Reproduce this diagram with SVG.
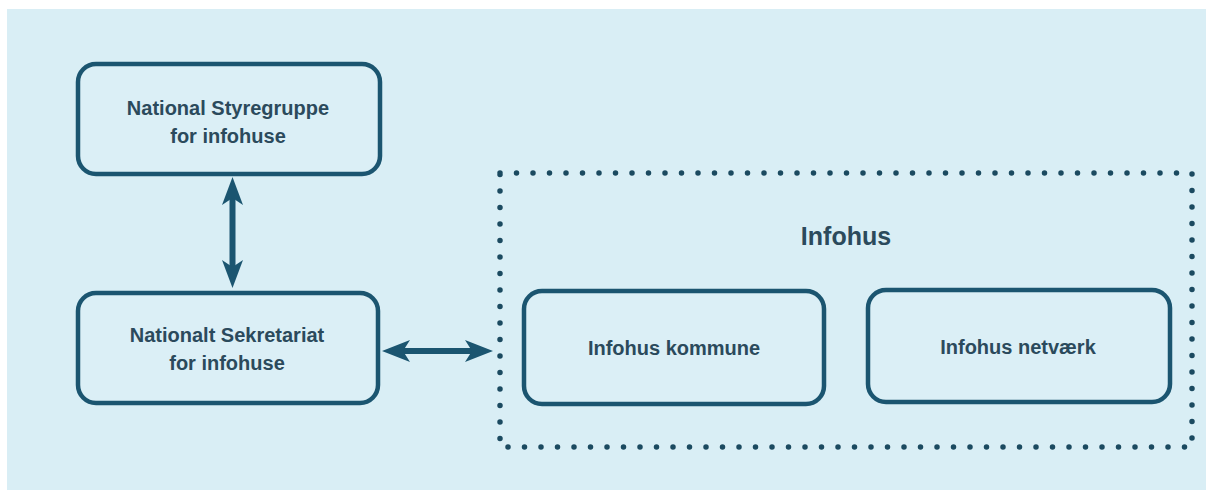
<svg xmlns="http://www.w3.org/2000/svg" width="1206" height="490" viewBox="0 0 1206 490">
<defs>
<style>
.box{fill:#dbeff6;stroke:#1b5570;stroke-width:4.5}
.lbl{font-family:"Liberation Sans",Arial,sans-serif;font-weight:bold;font-size:20px;fill:#2b4a5c;text-anchor:middle}
.conn{stroke:#1b5570;stroke-width:6;fill:none}
.head{fill:#1b5570}
.dots{fill:none;stroke:#1b4a60;stroke-width:5.5;stroke-linecap:round;stroke-dasharray:0 16.5}
</style>
</defs>
<rect x="0" y="0" width="1206" height="490" fill="#ffffff"/>
<rect x="7" y="9" width="1199" height="481" fill="#d9eef5"/>
<g id="connectors">
<line class="conn" x1="232.5" y1="196" x2="232.5" y2="269"/>
<path class="head" d="M232.5,177 L243,205 L232.5,198 L222,205 Z"/>
<path class="head" d="M232.5,288 L243,260 L232.5,267 L222,260 Z"/>
<line class="conn" x1="401" y1="351" x2="474" y2="351"/>
<path class="head" d="M382,351 L410,340 L403,351 L410,362 Z"/>
<path class="head" d="M493,351 L465,340 L472,351 L465,362 Z"/>
</g>
<g id="node-styregruppe">
<rect class="box" x="78" y="64" width="302" height="110" rx="18"/>
<text class="lbl" x="228" y="115">National Styregruppe</text>
<text class="lbl" x="228" y="143">for infohuse</text>
</g>
<g id="node-sekretariat">
<rect class="box" x="78" y="293" width="300" height="110" rx="18"/>
<text class="lbl" x="227" y="342">Nationalt Sekretariat</text>
<text class="lbl" x="227" y="370">for infohuse</text>
</g>
<g id="group-infohus">
<rect class="dots" x="500" y="173" width="692" height="274"/>
<text class="lbl" x="846" y="245" style="font-size:25px">Infohus</text>
</g>
<g id="node-kommune">
<rect class="box" x="524" y="291" width="300" height="113" rx="18"/>
<text class="lbl" x="674" y="355">Infohus kommune</text>
</g>
<g id="node-netvaerk">
<rect class="box" x="868" y="290" width="302" height="112" rx="18"/>
<text class="lbl" x="1018" y="354">Infohus netværk</text>
</g>
</svg>
